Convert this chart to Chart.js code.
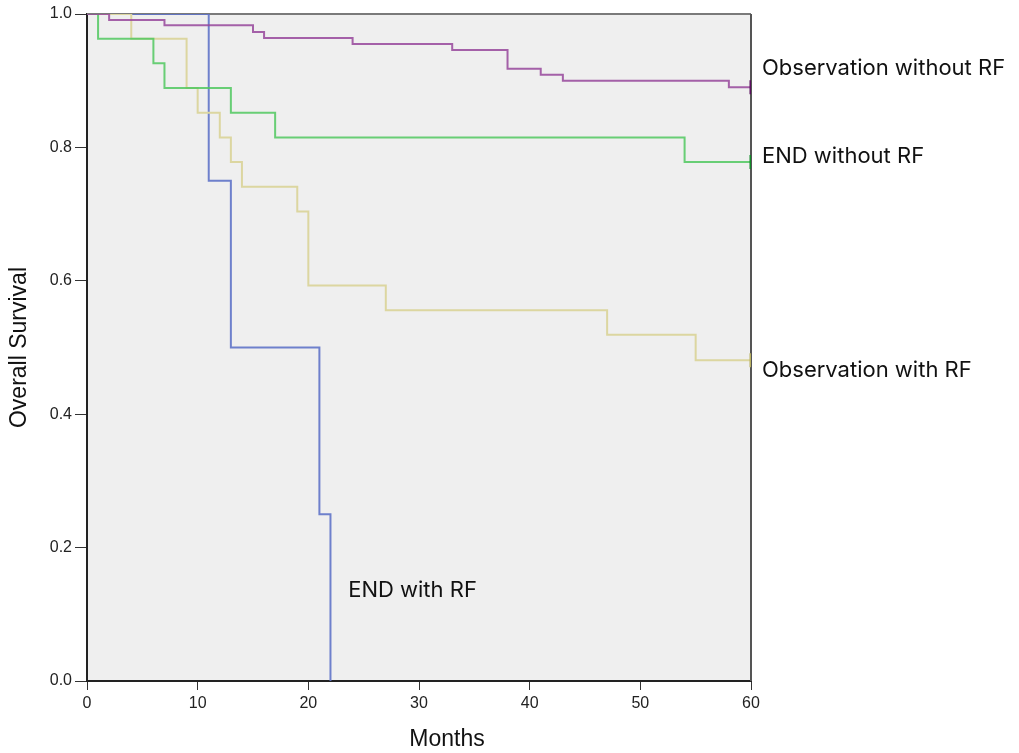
<!DOCTYPE html>
<html>
<head>
<meta charset="utf-8">
<script src="https://cdn.jsdelivr.net/npm/chart.js@4/dist/chart.umd.min.js"></script>
<style>
  html, body { margin: 0; padding: 0; background: #ffffff; }
  #wrap { width: 1019px; height: 753px; }
</style>
</head>
<body>
<div id="wrap"><canvas id="chart" width="1019" height="753"></canvas></div>
<script>
// Kaplan-Meier Kurven, Werte (Monate / Überlebensrate)
const obsNoRfMonths = [0, 2, 7, 15, 16, 24, 33, 38, 41, 43, 58, 60];
const obsNoRfSurv   = [1, 0.991, 0.983, 0.973, 0.964, 0.955, 0.946, 0.918, 0.909, 0.900, 0.890, 0.890];

const endNoRfMonths = [0, 1, 6, 7, 13, 17, 54, 60];
const endNoRfSurv   = [1, 0.963, 0.926, 0.889, 0.852, 0.815, 0.778, 0.778];

const obsRfMonths = [0, 4, 9, 10, 12, 13, 14, 19, 20, 27, 47, 55, 60];
const obsRfSurv   = [1, 0.963, 0.889, 0.852, 0.815, 0.778, 0.741, 0.704, 0.593, 0.556, 0.519, 0.481, 0.481];

const endRfMonths = [0, 11, 13, 21, 22];
const endRfSurv   = [1, 0.75, 0.5, 0.25, 0];

const seriesNames = ['Observation without RF', 'END without RF', 'Observation with RF', 'END with RF'];
// Beschriftungen: Ankerpunkt in Datenkoordinaten (Monat, Rate)
const labelMonths = [60, 60, 60, 23.6];
const labelSurv   = [0.919, 0.787, 0.465, 0.136];

const xTicks = [0, 10, 20, 30, 40, 50, 60];
const yTicks = [0, 0.2, 0.4, 0.6, 0.8, 1.0];

function toPoints(xs, ys) {
    return xs.map((x, i) => ({ x: x, y: ys[i] }));
}

// nur der letzte Punkt bekommt die Zensur-Markierung
function censorRadius(xs, censored) {
    return xs.map((x, i) => (censored && i === xs.length - 1) ? 7 : 0);
}

function makeSet(name, xs, ys, color, markColor, censored) {
    return {
        label: name,
        data: toPoints(xs, ys),
        stepped: 'before',
        borderColor: color,
        borderWidth: 2,
        fill: false,
        pointStyle: 'line',
        rotation: 90,
        pointRadius: censorRadius(xs, censored),
        pointBorderColor: markColor,
        pointBorderWidth: 3,
        pointHoverRadius: 0
    };
}

// Hintergrund der Zeichenfläche und Rahmen
const plotBackground = {
    id: 'plotBackground',
    beforeDraw(chart) {
        const { ctx, chartArea: a } = chart;
        ctx.save();
        ctx.fillStyle = '#efefef';
        ctx.fillRect(a.left, a.top, a.right - a.left, a.bottom - a.top);
        ctx.restore();
    },
    beforeDatasetsDraw(chart) {
        const { ctx, chartArea: a } = chart;
        ctx.save();
        ctx.strokeStyle = '#7a7a7a';
        ctx.lineWidth = 2;
        ctx.beginPath();
        ctx.moveTo(a.left, a.top);
        ctx.lineTo(a.right, a.top);
        ctx.stroke();
        ctx.strokeStyle = '#555555';
        ctx.beginPath();
        ctx.moveTo(a.right, a.top);
        ctx.lineTo(a.right, a.bottom);
        ctx.stroke();
        ctx.restore();
    }
};

// Kurvenbeschriftungen und x-Achsentitel
const curveLabels = {
    id: 'curveLabels',
    afterDraw(chart) {
        const { ctx, scales, chartArea: a } = chart;
        ctx.save();
        ctx.fillStyle = '#111111';
        ctx.font = '22px Inter, "Liberation Sans", sans-serif';
        ctx.textBaseline = 'middle';
        ctx.textAlign = 'left';
        seriesNames.forEach((name, i) => {
            let px = scales.x.getPixelForValue(labelMonths[i]);
            if (labelMonths[i] >= 60) px += 11;
            const py = scales.y.getPixelForValue(labelSurv[i]);
            ctx.fillText(name, px, py);
        });
        ctx.font = '23px "Liberation Sans", Arial, sans-serif';
        ctx.textAlign = 'center';
        ctx.fillText('Months', (a.left + a.right) / 2 + 28, 740);
        ctx.restore();
    }
};

const ctx = document.getElementById('chart').getContext('2d');
new Chart(ctx, {
    type: 'line',
    data: {
        datasets: [
            makeSet(seriesNames[0], obsNoRfMonths, obsNoRfSurv, 'rgba(150, 70, 155, 0.85)', '#5a0f5e', true),
            makeSet(seriesNames[1], endNoRfMonths, endNoRfSurv, 'rgba(80, 200, 95, 0.85)', '#128a28', true),
            makeSet(seriesNames[2], obsRfMonths, obsRfSurv, 'rgba(220, 214, 160, 1)', '#b8b060', true),
            makeSet(seriesNames[3], endRfMonths, endRfSurv, 'rgba(95, 115, 200, 0.9)', '#5f73c8', false)
        ]
    },
    options: {
        responsive: false,
        animation: false,
        layout: { padding: { top: 14, right: 268, left: 0, bottom: 0 } },
        plugins: {
            legend: { display: false },
            tooltip: { enabled: false }
        },
        scales: {
            x: {
                type: 'linear',
                min: 0,
                max: 60,
                afterBuildTicks(scale) {
                    scale.ticks = xTicks.map(v => ({ value: v }));
                },
                afterFit(scale) { scale.height = 72; },
                grid: { display: true, drawOnChartArea: false, drawTicks: true, tickLength: 9, color: '#333333' },
                border: { display: true, color: '#222222', width: 2 },
                ticks: {
                    color: '#222222',
                    padding: 4,
                    font: { family: '"Liberation Sans", Arial, sans-serif', size: 16 },
                    callback: v => v
                },
                title: { display: false }
            },
            y: {
                type: 'linear',
                min: 0,
                max: 1,
                afterBuildTicks(scale) {
                    scale.ticks = yTicks.map(v => ({ value: v }));
                },
                afterFit(scale) { scale.width = 87; },
                grid: { display: true, drawOnChartArea: false, drawTicks: true, tickLength: 12, color: '#333333' },
                border: { display: true, color: '#222222', width: 2 },
                ticks: {
                    color: '#222222',
                    padding: 3,
                    font: { family: '"Liberation Sans", Arial, sans-serif', size: 16 },
                    callback: v => Number(v).toFixed(1)
                },
                title: {
                    display: true,
                    text: 'Overall Survival',
                    color: '#111111',
                    font: { family: '"Liberation Sans", Arial, sans-serif', size: 23 },
                    padding: { top: 6, bottom: 0 }
                }
            }
        }
    },
    plugins: [plotBackground, curveLabels]
});
</script>
</body>
</html>
